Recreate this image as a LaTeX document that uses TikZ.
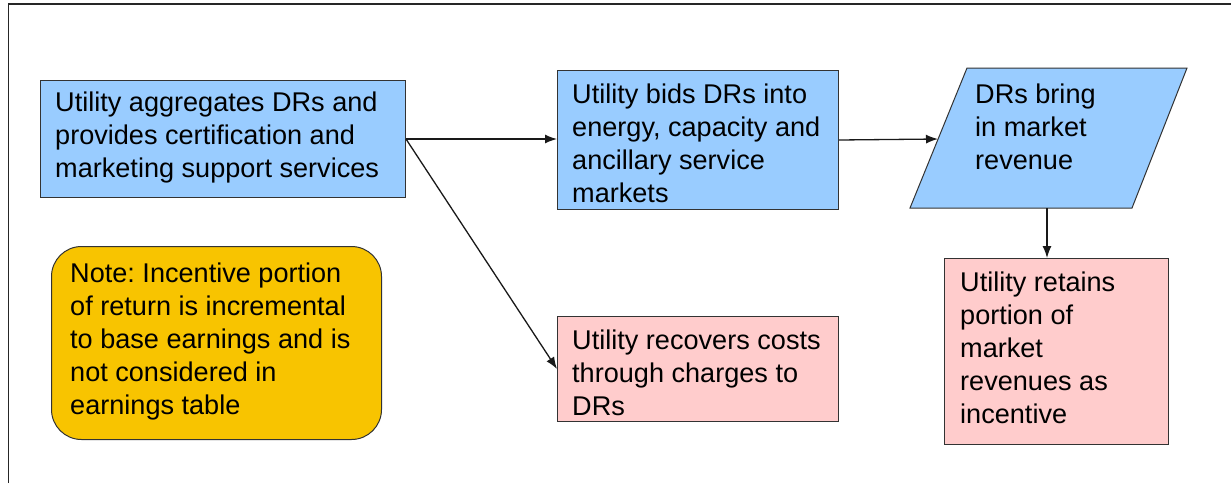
\documentclass[tikz,border=0pt]{standalone}
\usepackage{fontspec}
\setmainfont{Liberation Sans}
\usetikzlibrary{arrows.meta}
\definecolor{boxblue}{HTML}{99CCFF}
\definecolor{boxpink}{HTML}{FFCCCC}
\definecolor{noteyellow}{HTML}{F8C400}
\definecolor{edge}{HTML}{333333}
\begin{document}
\frenchspacing
\begin{tikzpicture}[x=1pt,y=-1pt,
  txt/.style={font=\fontsize{27.1}{33}\selectfont, align=left, inner sep=0pt, anchor=west},
  box/.style={draw=edge, line width=1pt, inner sep=0pt, anchor=north west},
  link/.style={draw=black!90, line width=1.3pt, -{Latex[length=12pt,width=9pt]}}]
\useasboundingbox (0,0) rectangle (1231,483);
% frame
\draw[line width=1.5pt, black!85] (8.5,483) -- (8.5,4) -- (1231,4);

% process boxes
\node[box, fill=boxblue, minimum width=365pt, minimum height=117pt] (agg) at (40,80) {};
\node[box, fill=boxblue, minimum width=281pt, minimum height=139pt] (bid) at (557,70) {};
\node[box, fill=boxpink, minimum width=281pt, minimum height=105pt] (rec) at (557,316) {};
\node[box, fill=boxpink, minimum width=224pt, minimum height=186pt] (ret) at (944,258) {};
\node[box, fill=noteyellow, rounded corners=30pt, minimum width=330pt, minimum height=193pt] (note) at (51,246) {};

% data shape (parallelogram)
\draw[fill=boxblue, draw=edge, line width=1pt]
  (967,68) -- (1187,68) -- (1132,208) -- (910,208) -- cycle;
\coordinate (revin) at (938,139);
\coordinate (revout) at (1047,208);

% box texts
\node[txt] (aggtxt) at (55,137.5)
  {Utility aggregates DRs and\\provides certification and\\marketing support services};
\node[txt] (bidtxt) at (572,143.5)
  {Utility bids DRs into\\energy, capacity and\\ancillary service\\markets};
\node[txt] (revtxt) at (975,126.5)
  {DRs bring\\in market\\revenue};
\node[txt] (rectxt) at (572,373)
  {Utility recovers costs\\through charges to\\DRs};
\node[txt] (rettxt) at (960,347.5)
  {Utility retains\\portion of\\market\\revenues as\\incentive};
\node[txt] (notetxt) at (70,341.5)
  {Note: Incentive portion\\of return is incremental\\to base earnings and is\\not considered in\\earnings table};

% connectors
\draw[link] (agg.east) -- (agg.east -| bid.west);
\draw[link] (agg.east) -- (rec.west);
\draw[link] (bid.east) -- (revin);
\draw[link] (revout) -- (revout |- ret.north);
\end{tikzpicture}
\end{document}
